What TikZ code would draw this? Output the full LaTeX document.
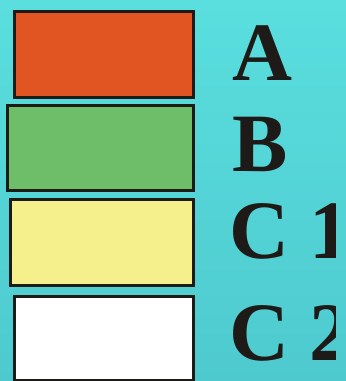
\documentclass[tikz,border=0pt]{standalone}
\usepackage{fontspec}
\setmainfont{Liberation Serif}
\usepackage{tikz}

\definecolor{bgtop}{RGB}{90,222,222}
\definecolor{bgbot}{RGB}{78,202,206}
\definecolor{keyA}{RGB}{224,85,34}
\definecolor{keyB}{RGB}{110,189,104}
\definecolor{keyC}{RGB}{245,240,140}
\definecolor{ink}{RGB}{30,26,24}

\tikzset{
  swatch/.style={draw=ink, line width=3pt, inner sep=0pt, anchor=north west},
  tag/.style={font=\fontsize{83}{83}\selectfont\bfseries, text=ink, inner sep=0pt, anchor=base west}
}

\begin{document}
\begin{tikzpicture}[x=1pt,y=-1pt]

% background
\shade[top color=bgtop, bottom color=bgbot] (0,0) rectangle (346,381);
\useasboundingbox (0,0) rectangle (346,381);

% colour swatches
\node[swatch, fill=keyA, minimum width=179pt, minimum height=86pt] (swA) at (12.5,9.5) {};
\node[swatch, fill=keyB, minimum width=186pt, minimum height=85pt] (swB) at (5.5,103.5) {};
\node[swatch, fill=keyC, minimum width=183pt, minimum height=86pt] (swC1) at (8.5,197.5) {};
\node[swatch, fill=white, minimum width=179pt, minimum height=84pt] (swC2) at (12.5,294.5) {};

% labels
\begin{scope}
\clip (0,0) rectangle (335,381);
\node[tag] (labA) at (232,80) {A};
\node[tag] (labB) at (232,171) {B};
\node[tag] (labC1) at (229,258) {C 1};
\node[tag] (labC2) at (229,360) {C 2};
\end{scope}

\end{tikzpicture}
\end{document}
